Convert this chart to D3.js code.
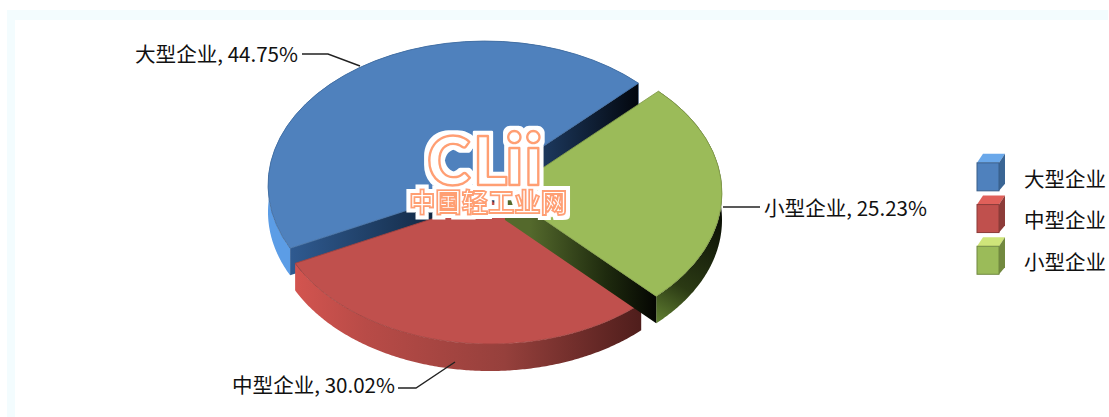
<!DOCTYPE html>
<html><head><meta charset="utf-8">
<script src="https://cdn.jsdelivr.net/npm/d3@7"></script>
<style>html,body{margin:0;padding:0;background:#fff;overflow:hidden}svg{display:block}
text{font-family:"Noto Sans CJK SC","Liberation Sans",sans-serif;fill:#111}</style></head><body>
<svg id="c" width="1109" height="417"></svg>
<script>
const categories = ["大型企业","中型企业","小型企业"];
const values = [44.75,30.02,25.23];
const colors = ["#4f81bd","#c0504d","#9bbb59"];
const drawOrder = ["大型企业","小型企业","中型企业"];
const logoLetters = ["C","L","i","i"];
const logoSub = "中国轻工业网";

const W=1109,H=417,rx=217,ry=144,depth=27;
const centers={"大型企业":[485,185],"中型企业":[490,200],"小型企业":[505,193]};
const labelPos={"大型企业":{x:135,y:55,line:[[302,54],[328,54],[360,66]]},
 "中型企业":{x:232,y:386,line:[[398,388],[416,388],[455,362]]},
 "小型企业":{x:764,y:209,line:[[723,207],[760,207]]}};
const legendY=d3.scaleBand().domain(categories).range([153,279]).padding(0.02);

const svg=d3.select("#c");
const defs=svg.append("defs");
function grad(id,x1,y1,x2,y2,stops){
  const g=defs.append("linearGradient").attr("id",id).attr("gradientUnits","userSpaceOnUse")
   .attr("x1",x1).attr("y1",y1).attr("x2",x2).attr("y2",y2);
  stops.forEach(s=>g.append("stop").attr("offset",s[0]).attr("stop-color",s[1]));
}
grad("redWall",297,0,643,0,[[0,"#d2544f"],[0.2,"#b84b47"],[0.6,"#96403c"],[1,"#4e1d1b"]]);
grad("greenWall",657,320,723,200,[[0,"#5e7c30"],[0.3,"#2b3a14"],[1,"#050703"]]);
grad("greenCut",530,0,657,0,[[0,"#54692c"],[0.6,"#1e2a0e"],[1,"#040502"]]);
grad("blueCutL",291,0,470,0,[[0,"#2f5a90"],[0.6,"#1a3658"],[1,"#0a1a2e"]]);
grad("blueCutR",540,0,638,0,[[0,"#1d3a60"],[1,"#03070e"]]);
const halo=defs.append("filter").attr("id","halo").attr("x","-15%").attr("y","-15%").attr("width","130%").attr("height","130%");
halo.append("feMorphology").attr("in","SourceAlpha").attr("operator","dilate").attr("radius",4).attr("result","d");
halo.append("feFlood").attr("flood-color","#fff");
halo.append("feComposite").attr("in2","d").attr("operator","in").attr("result","w");
const mg=halo.append("feMerge");mg.append("feMergeNode").attr("in","w");mg.append("feMergeNode").attr("in","SourceGraphic");

// frame
svg.append("rect").attr("x",7).attr("y",10).attr("width",W-8).attr("height",H-10).attr("fill","#f3fcfe");
svg.append("rect").attr("x",15).attr("y",20).attr("width",W-15).attr("height",H-20).attr("fill","#fff");

const deg=Math.PI/180;
const pie=d3.pie().sort((a,b)=>drawOrder.indexOf(a.c)-drawOrder.indexOf(b.c)).value(d=>d.v)
  .startAngle(243.9*deg).endAngle((243.9+360)*deg);
const arcs=pie(categories.map((c,i)=>({c,v:values[i],col:colors[i]})));
const arc=d3.arc().innerRadius(0).outerRadius(1);
const pt=(d,a,dy=0)=>{const c=centers[d.data.c];return [c[0]+rx*Math.sin(a),c[1]-ry*Math.cos(a)+dy];};
const wallFill={"大型企业":"#5c9de6","中型企业":"url(#redWall)","小型企业":"url(#greenWall)"};
const cutFill={"大型企业":["url(#blueCutL)","url(#blueCutR)"],"中型企业":["#7a2e2b","#5a2220"],"小型企业":["#3a4a20","url(#greenCut)"]};
const line=d3.line();

arcs.forEach(d=>{
  const g=svg.append("g");
  const c=centers[d.data.c];
  const as=d3.range(d.startAngle,d.endAngle,0.01).concat([d.endAngle]);
  const top=as.map(a=>pt(d,a)), bot=as.map(a=>pt(d,a,depth)).reverse();
  g.append("path").attr("d",line(top.concat(bot))+"Z").attr("fill",wallFill[d.data.c]);
  [d.startAngle,d.endAngle].forEach((a,i)=>{
    const p=pt(d,a);
    // the end-angle face of the green slice's start is hidden by its own top; draw only faces facing the viewer
    if(d.data.c==="小型企业"&&i===0) return;
    if(d.data.c==="中型企业") return;
    g.append("path").attr("d",line([c,p,[p[0],p[1]+depth],[c[0],c[1]+depth]])+"Z").attr("fill",cutFill[d.data.c][i]);
  });
  g.append("path").attr("transform",`translate(${c[0]},${c[1]}) scale(${rx},${ry})`)
    .attr("d",arc(d)).attr("fill",d.data.col)
    .attr("stroke",d3.color(d.data.col).darker(0.5)).attr("stroke-width",0.9).attr("vector-effect","non-scaling-stroke");
});

// labels
const fmt=v=>v.toFixed(2)+"%";
categories.forEach((c,i)=>{
  const L=labelPos[c];
  svg.append("path").attr("d",line(L.line)).attr("fill","none").attr("stroke","#222").attr("stroke-width",1.4);
  svg.append("text").attr("x",L.x).attr("y",L.y).attr("dy","0.36em").attr("font-size",20.5)
    .attr("textLength",163).attr("lengthAdjust","spacingAndGlyphs").text(`${c}, ${fmt(values[i])}`);
});

// legend
const cubeTop=["#6aa8ea","#e0605a","#cfe57a"],cubeSide=["#3a6594","#8d3c39","#72893f"];
categories.forEach((c,i)=>{
  const y=legendY(c),h=37,x=977,w=22,ox=6,oy=9;
  const g=svg.append("g");
  g.append("path").attr("d",line([[x,y+oy],[x+ox,y],[x+w+ox,y],[x+w,y+oy]])+"Z").attr("fill",cubeTop[i]);
  g.append("path").attr("d",line([[x+w,y+oy],[x+w+ox,y],[x+w+ox,y+h-7],[x+w,y+h]])+"Z").attr("fill",cubeSide[i]);
  g.append("rect").attr("x",x).attr("y",y+oy).attr("width",w).attr("height",h-oy).attr("fill",colors[i]).attr("stroke",d3.color(colors[i]).darker(0.9)).attr("stroke-width",1);
  svg.append("text").attr("x",1024).attr("y",[180,221,263][i]).attr("dy","0.36em").attr("font-size",20.5).text(c);
});

// watermark
const wm=svg.append("g").attr("filter","url(#halo)");
const logo=wm.append("text").attr("y",185).style("font-family",'Lato,"Open Sans",sans-serif').attr("font-weight",900)
  .style("fill","#fff").attr("stroke","#ff9f73").attr("stroke-width",2.4).attr("stroke-linejoin","round");
logo.selectAll("tspan").data(logoLetters).join("tspan")
  .attr("x",(d,i)=>[427,473,505,524][i]).attr("font-size",(d,i)=>i<2?66:72).text(d=>d);
wm.append("text").attr("x",409).attr("y",212).attr("font-size",26.5).attr("font-weight",700)
  .attr("textLength",158).attr("lengthAdjust","spacingAndGlyphs")
  .style("font-family",'"Noto Sans CJK SC",sans-serif').style("fill","#fff").attr("stroke","#ff9f73").attr("stroke-width",1.8).text(logoSub);
</script></body></html>
